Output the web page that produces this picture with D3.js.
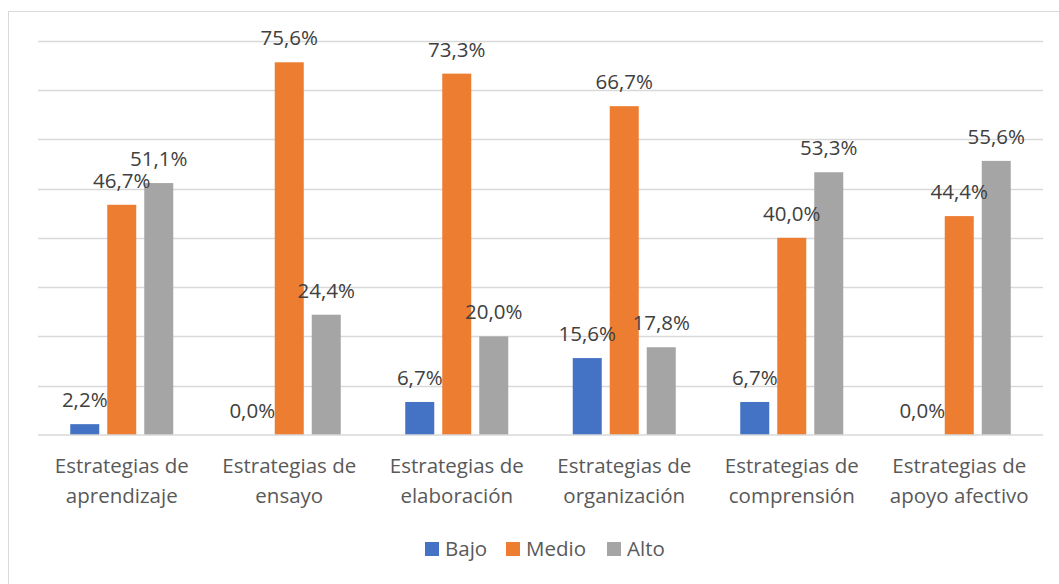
<!DOCTYPE html>
<html>
<head>
<meta charset="utf-8">
<script src="https://cdn.jsdelivr.net/npm/d3@7"></script>
<style>
  body { margin: 0; background: #fff; }
  text { font-family: "Open Sans", sans-serif; }
</style>
</head>
<body>
<svg id="chart-svg"></svg>
<script>
// Data
const categories = [
  ["Estrategias de", "aprendizaje"],
  ["Estrategias de", "ensayo"],
  ["Estrategias de", "elaboración"],
  ["Estrategias de", "organización"],
  ["Estrategias de", "comprensión"],
  ["Estrategias de", "apoyo afectivo"],
];
const seriesNames = ["Bajo", "Medio", "Alto"];
const bajo = [2.2, 0.0, 6.7, 15.6, 6.7, 0.0];
const medio = [46.7, 75.6, 73.3, 66.7, 40.0, 44.4];
const alto = [51.1, 24.4, 20.0, 17.8, 53.3, 55.6];
const gridTicks = [10, 20, 30, 40, 50, 60, 70, 80];

const colors = ["#4472C4", "#ED7D31", "#A5A5A5"];

const width = 1059;
const height = 584;
const plot = { left: 38, right: 1043, top: 40.6, bottom: 435 };

const svg = d3.select("#chart-svg").attr("width", width).attr("height", height);

// marco del gráfico
svg.append("rect")
  .attr("x", 8.5).attr("y", 11.5)
  .attr("width", 1060).attr("height", 600)
  .attr("fill", "#fff")
  .attr("stroke", "#d9d9d9");

const catIdx = categories.map((d, i) => i);
const x0 = d3.scaleBand()
  .domain(catIdx)
  .range([plot.left, plot.right])
  .paddingInner(0.385)
  .paddingOuter(0.1925);

const x1 = d3.scaleBand()
  .domain(seriesNames)
  .range([0, x0.bandwidth()])
  .paddingInner(0.216);

const y = d3.scaleLinear().domain([0, 80]).range([plot.bottom, plot.top]);

// gridlines
svg.selectAll(".grid-line")
  .data(gridTicks)
  .enter()
  .append("line")
  .attr("x1", plot.left).attr("x2", plot.right)
  .attr("y1", d => Math.round(y(d)) + 0.5)
  .attr("y2", d => Math.round(y(d)) + 0.5)
  .attr("stroke", "#d9d9d9")
  .attr("stroke-width", 1.5);

const rows = catIdx.map(i => ({
  i,
  vals: [bajo[i], medio[i], alto[i]].map((v, k) => ({ series: seriesNames[k], k, v, i })),
}));

const groups = svg.selectAll(".group")
  .data(rows)
  .enter()
  .append("g")
  .attr("transform", d => `translate(${x0(d.i)},0)`);

groups.selectAll("rect")
  .data(d => d.vals)
  .enter()
  .append("rect")
  .attr("x", d => x1(d.series))
  .attr("y", d => y(d.v))
  .attr("width", x1.bandwidth())
  .attr("height", d => y(0) - y(d.v))
  .attr("fill", d => colors[d.k]);

// baseline
svg.append("line")
  .attr("x1", plot.left).attr("x2", plot.right)
  .attr("y1", plot.bottom).attr("y2", plot.bottom)
  .attr("stroke", "#d9d9d9")
  .attr("stroke-width", 1.5);

// etiquetas de datos
groups.selectAll(".bar-text")
  .data(d => d.vals)
  .enter()
  .append("text")
  .attr("x", d => x1(d.series) + x1.bandwidth() / 2)
  .attr("y", d => y(d.v) - 17)
  .attr("text-anchor", "middle")
  .attr("font-size", 20.5)
  .attr("fill", "#404040")
  .text(d => d.v.toFixed(1).replace(".", ",") + "%");

// eje x
const xLabels = svg.selectAll(".x-label")
  .data(rows)
  .enter()
  .append("text")
  .attr("text-anchor", "middle")
  .attr("font-size", 20.5)
  .attr("fill", "#595959");

xLabels.selectAll("tspan")
  .data(d => categories[d.i].map(t => ({ t, i: d.i })))
  .enter()
  .append("tspan")
  .attr("x", d => x0(d.i) + x0.bandwidth() / 2)
  .attr("y", (d, j) => 473 + j * 30)
  .text(d => d.t);

// leyenda
const legendX = [425, 506, 607];
const legend = svg.selectAll(".legend")
  .data(seriesNames)
  .enter()
  .append("g")
  .attr("transform", (d, i) => `translate(${legendX[i]},542)`);

legend.append("rect")
  .attr("width", 14).attr("height", 14)
  .attr("fill", (d, i) => colors[i]);

legend.append("text")
  .attr("x", 20).attr("y", 14)
  .attr("font-size", 20.5)
  .attr("fill", "#595959")
  .text(d => d);
</script>
</body>
</html>
